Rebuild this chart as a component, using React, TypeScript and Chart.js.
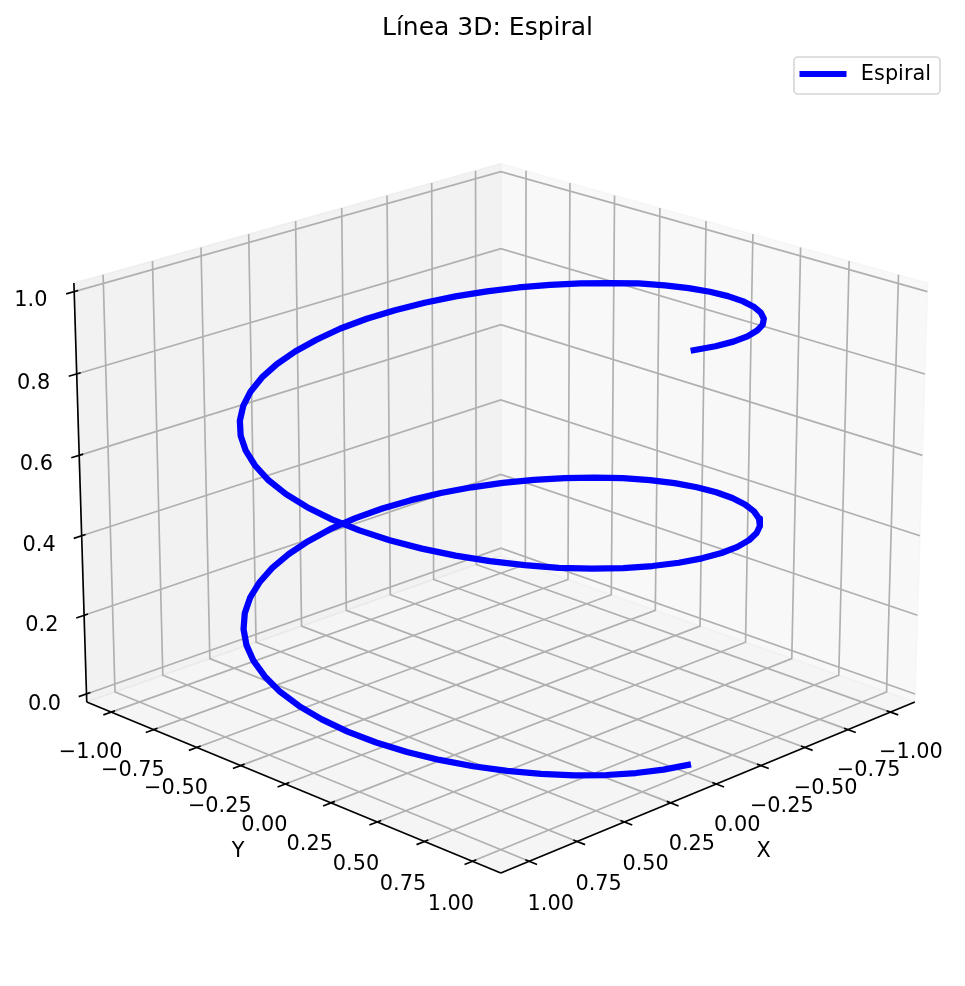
import React, { useEffect, useRef } from "react";
import { Chart, registerables } from "chart.js";

Chart.register(...registerables);

const titleText = "Línea 3D: Espiral";
const seriesLabel = "Espiral";
const xLabel = "X";
const yLabel = "Y";

const xTicks = [-1, -0.75, -0.5, -0.25, 0, 0.25, 0.5, 0.75, 1];
const yTicks = [-1, -0.75, -0.5, -0.25, 0, 0.25, 0.5, 0.75, 1];
const zTicks = [0, 0.2, 0.4, 0.6, 0.8, 1];
const xTickLabels = ["−1.00", "−0.75", "−0.50", "−0.25", "0.00", "0.25", "0.50", "0.75", "1.00"];
const yTickLabels = ["−1.00", "−0.75", "−0.50", "−0.25", "0.00", "0.25", "0.50", "0.75", "1.00"];
const zTickLabels = ["0.0", "0.2", "0.4", "0.6", "0.8", "1.0"];
const xLimits = [-1.1458, 1.1458];
const yLimits = [-1.1458, 1.1458];
const zLimits = [-0.0208, 1.0208];

const spiralX = [
  0, 0.1266, 0.2511, 0.3717, 0.4862, 0.5929, 0.6901, 0.7761, 0.8497, 0.9096,
  0.9549, 0.9848, 0.9989, 0.9969, 0.9788, 0.945, 0.896, 0.8326, 0.7558, 0.6668,
  0.5671, 0.4582, 0.342, 0.2203, 0.0951, -0.0317, -0.158, -0.2817, -0.4009, -0.5137,
  -0.6182, -0.7127, -0.7958, -0.866, -0.9224, -0.9638, -0.9898, -0.9999, -0.9938, -0.9718,
  -0.9342, -0.8815, -0.8146, -0.7347, -0.6428, -0.5406, -0.4298, -0.312, -0.1893, -0.0634,
  0.0634, 0.1893, 0.312, 0.4298, 0.5406, 0.6428, 0.7347, 0.8146, 0.8815, 0.9342,
  0.9718, 0.9938, 0.9999, 0.9898, 0.9638, 0.9224, 0.866, 0.7958, 0.7127, 0.6182,
  0.5137, 0.4009, 0.2817, 0.158, 0.0317, -0.0951, -0.2203, -0.342, -0.4582, -0.5671,
  -0.6668, -0.7558, -0.8326, -0.896, -0.945, -0.9788, -0.9969, -0.9989, -0.9848, -0.9549,
  -0.9096, -0.8497, -0.7761, -0.6901, -0.5929, -0.4862, -0.3717, -0.2511, -0.1266, 0,
];
const spiralY = [
  1, 0.992, 0.9679, 0.9284, 0.8738, 0.8053, 0.7237, 0.6306, 0.5272, 0.4154,
  0.2969, 0.1736, 0.0476, -0.0792, -0.2048, -0.3271, -0.4441, -0.5539, -0.6548, -0.7453,
  -0.8237, -0.8888, -0.9397, -0.9754, -0.9955, -0.9995, -0.9874, -0.9595, -0.9161, -0.858,
  -0.786, -0.7015, -0.6056, -0.5, -0.3863, -0.2665, -0.1423, -0.0159, 0.1108, 0.2358,
  0.3569, 0.4722, 0.58, 0.6785, 0.766, 0.8413, 0.9029, 0.9501, 0.9819, 0.998,
  0.998, 0.9819, 0.9501, 0.9029, 0.8413, 0.766, 0.6785, 0.58, 0.4722, 0.3569,
  0.2358, 0.1108, -0.0159, -0.1423, -0.2665, -0.3863, -0.5, -0.6056, -0.7015, -0.786,
  -0.858, -0.9161, -0.9595, -0.9874, -0.9995, -0.9955, -0.9754, -0.9397, -0.8888, -0.8237,
  -0.7453, -0.6548, -0.5539, -0.4441, -0.3271, -0.2048, -0.0792, 0.0476, 0.1736, 0.2969,
  0.4154, 0.5272, 0.6306, 0.7237, 0.8053, 0.8738, 0.9284, 0.9679, 0.992, 1,
];
const spiralZ = [
  0, 0.01, 0.02, 0.03, 0.04, 0.051, 0.061, 0.071, 0.081, 0.091,
  0.101, 0.111, 0.121, 0.131, 0.141, 0.152, 0.162, 0.172, 0.182, 0.192,
  0.202, 0.212, 0.222, 0.232, 0.242, 0.253, 0.263, 0.273, 0.283, 0.293,
  0.303, 0.313, 0.323, 0.333, 0.343, 0.354, 0.364, 0.374, 0.384, 0.394,
  0.404, 0.414, 0.424, 0.434, 0.444, 0.455, 0.465, 0.475, 0.485, 0.495,
  0.505, 0.515, 0.525, 0.535, 0.545, 0.556, 0.566, 0.576, 0.586, 0.596,
  0.606, 0.616, 0.626, 0.636, 0.646, 0.657, 0.667, 0.677, 0.687, 0.697,
  0.707, 0.717, 0.727, 0.737, 0.747, 0.758, 0.768, 0.778, 0.788, 0.798,
  0.808, 0.818, 0.828, 0.838, 0.848, 0.859, 0.869, 0.879, 0.889, 0.899,
  0.909, 0.919, 0.929, 0.939, 0.949, 0.96, 0.97, 0.98, 0.99, 1,
];

const W = 965;
const H = 986;
const FONT = "'DejaVu Sans'";
const TEXT_SIZE = 20.83;
const TITLE_SIZE = 25;
const TITLE_TOP = 13;
const LEGEND_PAD = 21;
// title block + legend block (10 + one row + padding)
const CHART_TOP = TITLE_TOP + TITLE_SIZE * 1.2 + 10 + TEXT_SIZE + LEGEND_PAD;
const LEFT_PAD = 23;
const RIGHT_PAD = 13;

// View of the 3D box: elevation 20°, azimuth 45°, distance 10, box aspect 4:4:3.
const ELEV = (20 * Math.PI) / 180;
const AZIM = (45 * Math.PI) / 180;
const DIST = 10;
const HALF_XY = 0.5952;
const HALF_Z = 0.4464;
const SCALE = 4994;
const CX = 500.8;
const CY = 495.7;

type P3 = [number, number, number];

function project([x, y, z]: P3) {
  const qx = ((x - xLimits[0]) / (xLimits[1] - xLimits[0]) - 0.5) * 2 * HALF_XY;
  const qy = ((y - yLimits[0]) / (yLimits[1] - yLimits[0]) - 0.5) * 2 * HALF_XY;
  const qz = ((z - zLimits[0]) / (zLimits[1] - zLimits[0]) - 0.5) * 2 * HALF_Z;
  const ce = Math.cos(ELEV), se = Math.sin(ELEV), ca = Math.cos(AZIM), sa = Math.sin(AZIM);
  const u = -sa * qx + ca * qy;
  const v = -se * ca * qx - se * sa * qy + ce * qz;
  const w = ce * ca * qx + ce * sa * qy + se * qz;
  const d = DIST - w;
  return { x: CX + (SCALE * u) / d, y: CY - (SCALE * v) / d };
}

const [x0, x1] = xLimits;
const [y0, y1] = yLimits;
const [z0, z1] = zLimits;

function lineDs(points: P3[], color: string, width: number, extra: any = {}) {
  return {
    label: "",
    data: points.map(project),
    showLine: true,
    borderColor: color,
    borderWidth: width,
    pointRadius: 0,
    tension: 0,
    clip: false,
    borderCapStyle: "butt",
    fill: false,
    ...extra,
  };
}

function paneDs(points: P3[], color: string) {
  return lineDs([...points, points[0]], color, 1.5, { backgroundColor: color, fill: "shape" });
}

function buildDatasets() {
  const grid = "#b0b0b0";
  const gridW = 1.67;
  const axisW = 1.67;
  const tickOut = 0.04;
  const tickIn = 0.02;
  const ds: any[] = [];
  ds.push(
    lineDs(
      spiralX.map((v, i) => [v, spiralY[i], spiralZ[i]] as P3),
      "#0000ff",
      6.25,
      { label: seriesLabel, borderCapStyle: "square", borderJoinStyle: "round" }
    )
  );
  // axis lines and tick marks
  ds.push(lineDs([[x0, y1, z0], [x1, y1, z0]], "#000", axisW));
  ds.push(lineDs([[x1, y0, z0], [x1, y1, z0]], "#000", axisW));
  ds.push(lineDs([[x1, y0, z0], [x1, y0, z1]], "#000", axisW));
  xTicks.forEach((t) => ds.push(lineDs([[t, y1 - tickIn, z0], [t, y1 + tickOut, z0]], "#000", axisW)));
  yTicks.forEach((t) => ds.push(lineDs([[x1 - tickIn, t, z0], [x1 + tickOut, t, z0]], "#000", axisW)));
  zTicks.forEach((t) => ds.push(lineDs([[x1 - tickIn, y0, t], [x1 + tickOut, y0, t]], "#000", axisW)));
  // grid
  xTicks.forEach((t) => ds.push(lineDs([[t, y1, z0], [t, y0, z0], [t, y0, z1]], grid, gridW)));
  yTicks.forEach((t) => ds.push(lineDs([[x1, t, z0], [x0, t, z0], [x0, t, z1]], grid, gridW)));
  zTicks.forEach((t) => ds.push(lineDs([[x1, y0, t], [x0, y0, t], [x0, y1, t]], grid, gridW)));
  // panes
  ds.push(paneDs([[x0, y0, z0], [x0, y1, z0], [x0, y1, z1], [x0, y0, z1]], "rgba(242,242,242,0.5)"));
  ds.push(paneDs([[x0, y0, z0], [x1, y0, z0], [x1, y0, z1], [x0, y0, z1]], "rgba(230,230,230,0.5)"));
  ds.push(paneDs([[x0, y0, z0], [x1, y0, z0], [x1, y1, z0], [x0, y1, z0]], "rgba(236,236,236,0.5)"));
  return ds;
}

const textPlugin = {
  id: "axisText",
  beforeDraw(chart: any) {
    const { ctx } = chart;
    ctx.save();
    ctx.beginPath();
    ctx.roundRect(794, 57, 146, 37, 4);
    ctx.fillStyle = "rgba(255,255,255,0.8)";
    ctx.fill();
    ctx.lineWidth = 1.6;
    ctx.strokeStyle = "#d5d5d5";
    ctx.stroke();
    ctx.restore();
  },
  afterDatasetsDraw(chart: any) {
    const { ctx, scales } = chart;
    const put = (s: string, p3: P3) => {
      const p = project(p3);
      ctx.font = `${TEXT_SIZE}px ${FONT}`;
      ctx.fillText(s, scales.x.getPixelForValue(p.x), scales.y.getPixelForValue(p.y));
    };
    ctx.save();
    ctx.fillStyle = "#000";
    ctx.textAlign = "center";
    ctx.textBaseline = "middle";
    xTicks.forEach((t, i) => put(xTickLabels[i], [t, y1 + 0.11, z0 - 0.083]));
    yTicks.forEach((t, i) => put(yTickLabels[i], [x1 + 0.11, t, z0 - 0.083]));
    zTicks.forEach((t, i) => put(zTickLabels[i], [x1 + 0.187, y0 - 0.032, t]));
    put(xLabel, [0, y1 + 0.245, z0 - 0.12]);
    put(yLabel, [x1 + 0.245, 0, z0 - 0.12]);
    ctx.restore();
  },
};

export default function App() {
  const ref = useRef<HTMLCanvasElement>(null);
  useEffect(() => {
    document.body.style.margin = "0";
    document.body.style.overflow = "hidden";
    const swatch = document.createElement("canvas");
    swatch.width = 52;
    swatch.height = 6;
    const sctx = swatch.getContext("2d")!;
    sctx.fillStyle = "#0000ff";
    sctx.fillRect(1, 0, 47, 6);
    const chart = new Chart(ref.current!, {
      type: "scatter",
      data: { datasets: buildDatasets() },
      options: {
        animation: false,
        responsive: false,
        events: [],
        layout: { padding: { left: LEFT_PAD, right: RIGHT_PAD, top: 0, bottom: 0 } },
        scales: {
          x: { type: "linear", display: false, min: LEFT_PAD, max: W - RIGHT_PAD },
          y: { type: "linear", display: false, min: CHART_TOP, max: H, reverse: true },
        },
        plugins: {
          tooltip: { enabled: false },
          title: {
            display: true,
            text: titleText,
            color: "#000",
            font: { family: FONT, size: TITLE_SIZE, weight: "normal", lineHeight: 1.2 },
            padding: { top: TITLE_TOP, bottom: 0 },
          },
          legend: {
            display: true,
            position: "top",
            align: "end",
            labels: {
              color: "#000",
              font: { family: FONT, size: TEXT_SIZE },
              padding: LEGEND_PAD,
              usePointStyle: true,
              pointStyle: swatch,
              pointStyleWidth: 52,
              filter: (item: any) => item.datasetIndex === 0,
            },
          },
        },
      } as any,
      plugins: [textPlugin],
    } as any);
    return () => chart.destroy();
  }, []);
  return <canvas ref={ref} width={W} height={H} style={{ display: "block" }} />;
}
